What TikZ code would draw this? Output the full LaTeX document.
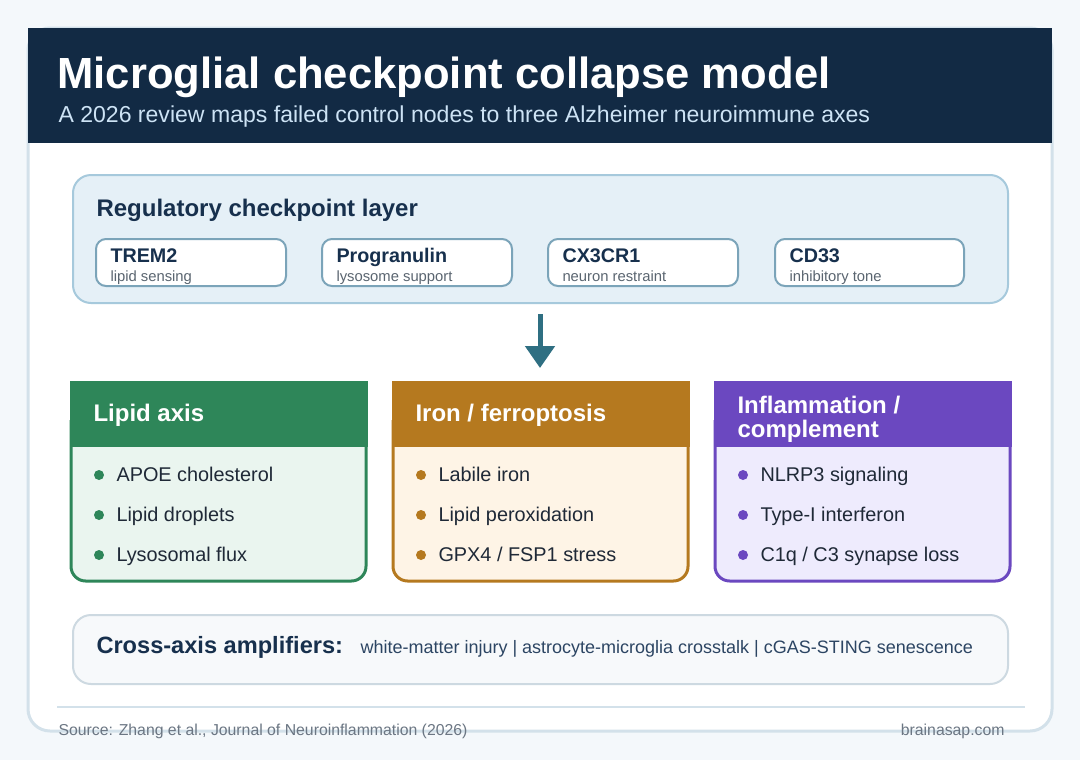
\documentclass[tikz,border=0pt]{standalone}
\usepackage{fontspec}
\setmainfont{Liberation Sans}
\usetikzlibrary{arrows.meta}

\definecolor{pagebg}{RGB}{244,248,251}
\definecolor{cardline}{RGB}{211,225,234}
\definecolor{headbg}{RGB}{18,42,68}
\definecolor{subblue}{RGB}{205,227,245}
\definecolor{navy}{RGB}{23,48,77}
\definecolor{regfill}{RGB}{229,240,247}
\definecolor{regline}{RGB}{166,201,220}
\definecolor{ckline}{RGB}{123,164,185}
\definecolor{subgray}{RGB}{90,101,112}
\definecolor{arrowc}{RGB}{47,111,130}
\definecolor{lipidc}{RGB}{46,134,89}
\definecolor{lipidbody}{RGB}{234,245,239}
\definecolor{ironc}{RGB}{181,121,31}
\definecolor{ironbody}{RGB}{254,244,230}
\definecolor{inflc}{RGB}{107,72,192}
\definecolor{inflbody}{RGB}{238,235,253}
\definecolor{itemtxt}{RGB}{31,41,55}
\definecolor{ampfill}{RGB}{247,249,251}
\definecolor{ampline}{RGB}{205,217,225}
\definecolor{amptxt}{RGB}{44,69,99}
\definecolor{foottxt}{RGB}{107,118,131}

\tikzset{every picture/.style={line width=0.75pt}}
\tikzset{
  txt/.style={inner sep=0pt, anchor=base west},
  ckbox/.style={draw=ckline, line width=1.5pt, fill=white, rounded corners=7.5pt},
  ckname/.style={txt, font=\fontsize{14.8}{17}\selectfont\bfseries, text=navy},
  cksub/.style={txt, font=\fontsize{11.1}{13}\selectfont, text=subgray},
  axishead/.style={txt, font=\fontsize{18}{20}\selectfont\bfseries, text=white},
  itemtext/.style={txt, font=\fontsize{14.9}{17}\selectfont, text=itemtxt},
  flowarrow/.style={draw=arrowc, line width=3.75pt, -{Triangle[width=21.75pt,length=16.5pt]}, arrowc}
}

\begin{document}
\begin{tikzpicture}[x=0.75pt,y=0.75pt,yscale=-1,xscale=1]
	\useasboundingbox (0,0) rectangle (1080,760);
	
	%Shape: Rectangle [page]
	\fill [pagebg] (0,0) rectangle (1080,760) ;
	%Shape: Rounded Rectangle [card]
	\draw [cardline, line width=2.25pt, fill=white, rounded corners=16.5pt] (28,28) rectangle (1052,731) ;
	%Shape: Rectangle [header band]
	\fill [headbg] (28,28) rectangle (1052,143) ;
	
	% Text Node
	\node [txt, font=\fontsize{32.7}{37}\selectfont\bfseries, text=white] (title) at (57,88) {Microglial checkpoint collapse model};
	% Text Node
	\node [txt, font=\fontsize{17.3}{20}\selectfont, text=subblue] (subtitle) at (58,122) {A 2026 review maps failed control nodes to three Alzheimer neuroimmune axes};
	
	%Shape: Rounded Rectangle [checkpoint layer]
	\draw [regline, line width=1.5pt, fill=regfill, rounded corners=13.5pt] (73,175) rectangle (1008,303) ;
	% Text Node
	\node [txt, font=\fontsize{18}{21}\selectfont\bfseries, text=navy] (regtitle) at (96,216) {Regulatory checkpoint layer};
	
	%Shape: Rounded Rectangle [TREM2]
	\draw [ckbox] (96,239) rectangle (286,286) ;
	%Shape: Rounded Rectangle [Progranulin]
	\draw [ckbox] (322,239) rectangle (512,286) ;
	%Shape: Rounded Rectangle [CX3CR1]
	\draw [ckbox] (548,239) rectangle (738,286) ;
	%Shape: Rounded Rectangle [CD33]
	\draw [ckbox] (775,239) rectangle (964,286) ;
	
	% Text Node
	\node [ckname] (trem) at (110,262) {TREM2};
	\node [cksub] (tremsub) at (110,281) {lipid sensing};
	% Text Node
	\node [ckname] (pgrn) at (336,262) {Progranulin};
	\node [cksub] (pgrnsub) at (336,281) {lysosome support};
	% Text Node
	\node [ckname] (cx3) at (562,262) {CX3CR1};
	\node [cksub] (cx3sub) at (562,281) {neuron restraint};
	% Text Node
	\node [ckname] (cd33) at (789,262) {CD33};
	\node [cksub] (cd33sub) at (789,281) {inhibitory tone};
	
	%Straight Lines [down arrow]
	\coordinate (arrtop) at (540,314);
	\coordinate (arrtip) at (540,368);
	\draw [flowarrow] (arrtop) -- (arrtip) ;
	
	%Shape: Lipid card
	\draw [lipidc, line width=2.25pt, fill=lipidbody, rounded corners=11pt] (71,420) -- (71,581) -- (366,581) -- (366,420) ;
	\filldraw [lipidc, line width=2.25pt] (71,382) rectangle (366,445) ;
	%Shape: Iron card
	\draw [ironc, line width=2.25pt, fill=ironbody, rounded corners=11pt] (393,420) -- (393,581) -- (688,581) -- (688,420) ;
	\filldraw [ironc, line width=2.25pt] (393,382) rectangle (688,445) ;
	%Shape: Inflammation card
	\draw [inflc, line width=2.25pt, fill=inflbody, rounded corners=11pt] (715,420) -- (715,581) -- (1010,581) -- (1010,420) ;
	\filldraw [inflc, line width=2.25pt] (715,382) rectangle (1010,445) ;
	
	% Text Node
	\node [axishead] (lipidhead) at (93,421) {Lipid axis};
	% Text Node
	\node [axishead] (ironhead) at (415,421) {Iron / ferroptosis};
	% Text Node
	\node [axishead] (inflhead1) at (737,413) {Inflammation /};
	\node [axishead] (inflhead2) at (737,437) {complement};
	
	%Shape: Circle [bullets]
	\fill [lipidc] (99,475) circle [radius=5] ;
	\fill [lipidc] (99,515) circle [radius=5] ;
	\fill [lipidc] (99,555) circle [radius=5] ;
	\fill [ironc] (421,475) circle [radius=5] ;
	\fill [ironc] (421,515) circle [radius=5] ;
	\fill [ironc] (421,555) circle [radius=5] ;
	\fill [inflc] (743,475) circle [radius=5] ;
	\fill [inflc] (743,515) circle [radius=5] ;
	\fill [inflc] (743,555) circle [radius=5] ;
	
	% Text Node
	\node [itemtext] (lipid1) at (116,481) {APOE cholesterol};
	\node [itemtext] (lipid2) at (116,521) {Lipid droplets};
	\node [itemtext] (lipid3) at (116,561) {Lysosomal flux};
	% Text Node
	\node [itemtext] (iron1) at (438,481) {Labile iron};
	\node [itemtext] (iron2) at (438,521) {Lipid peroxidation};
	\node [itemtext] (iron3) at (438,561) {GPX4 / FSP1 stress};
	% Text Node
	\node [itemtext] (infl1) at (760,481) {NLRP3 signaling};
	\node [itemtext] (infl2) at (760,521) {Type-I interferon};
	\node [itemtext] (infl3) at (760,561) {C1q / C3 synapse loss};
	
	%Shape: Rounded Rectangle [amplifiers]
	\draw [ampline, line width=1.5pt, fill=ampfill, rounded corners=13.5pt] (73,615) rectangle (1008,684) ;
	% Text Node
	\node [txt, font=\fontsize{17.7}{20}\selectfont\bfseries, text=navy] (ampkey) at (96,653) {Cross-axis amplifiers:};
	% Text Node
	\node [txt, font=\fontsize{13.5}{16}\selectfont, text=amptxt] (amplist) at (360,653) {white-matter injury | astrocyte-microglia crosstalk | cGAS-STING senescence};
	
	%Straight Lines [rule]
	\draw [cardline, line width=1.5pt] (57,707) -- (1025,707) ;
	
	% Text Node
	\node [txt, font=\fontsize{11.85}{14}\selectfont, text=foottxt] (source) at (58,735) {Source: Zhang et al., Journal of Neuroinflammation (2026)};
	% Text Node
	\node [txt, anchor=base east, font=\fontsize{11.85}{14}\selectfont, text=foottxt] (site) at (1005,735) {brainasap.com};
	
\end{tikzpicture}
\end{document}
